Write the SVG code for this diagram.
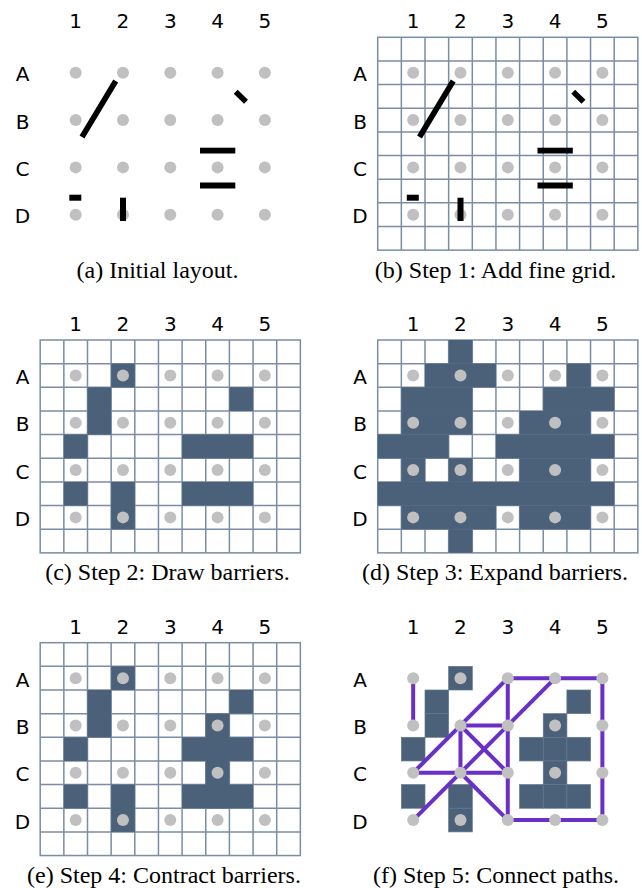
<svg xmlns="http://www.w3.org/2000/svg" xmlns:xlink="http://www.w3.org/1999/xlink" width="642" height="888" viewBox="0 0 642 888">
<style>
.lbl{font-family:"DejaVu Sans","Noto Sans",sans-serif;font-size:20px;fill:#000;text-anchor:middle}
.cap{font-family:"Liberation Serif","Times New Roman",serif;font-size:24px;fill:#000;text-anchor:middle}
.gl{fill:none;stroke:#7b8da5;stroke-width:1.5}
.bar{fill:#4b6079}
.barf{fill:#4b6079;stroke:#62778e;stroke-width:0.7}
.dot{fill:#c0c0c0}
.blk{fill:#000}
.bln{stroke:#000;stroke-width:5.6;fill:none}
.path{stroke:#6a2fc6;stroke-width:4;fill:none;stroke-linecap:round}
</style>
<defs>
<g id="grid">
<rect x="0" y="0" width="260.15" height="212.85" fill="#fff" class="gl"/>
<path class="gl" d="M23.65 0V212.85M47.3 0V212.85M70.95 0V212.85M94.6 0V212.85M118.25 0V212.85M141.9 0V212.85M165.55 0V212.85M189.2 0V212.85M212.85 0V212.85M236.5 0V212.85M0 23.65H260.15M0 47.3H260.15M0 70.95H260.15M0 94.6H260.15M0 118.25H260.15M0 141.9H260.15M0 165.55H260.15M0 189.2H260.15"/>
</g>
<g id="dots">
<circle class="dot" cx="35.475" cy="35.475" r="6"/><circle class="dot" cx="82.775" cy="35.475" r="6"/><circle class="dot" cx="130.075" cy="35.475" r="6"/><circle class="dot" cx="177.375" cy="35.475" r="6"/><circle class="dot" cx="224.675" cy="35.475" r="6"/>
<circle class="dot" cx="35.475" cy="82.775" r="6"/><circle class="dot" cx="82.775" cy="82.775" r="6"/><circle class="dot" cx="130.075" cy="82.775" r="6"/><circle class="dot" cx="177.375" cy="82.775" r="6"/><circle class="dot" cx="224.675" cy="82.775" r="6"/>
<circle class="dot" cx="35.475" cy="130.075" r="6"/><circle class="dot" cx="82.775" cy="130.075" r="6"/><circle class="dot" cx="130.075" cy="130.075" r="6"/><circle class="dot" cx="177.375" cy="130.075" r="6"/><circle class="dot" cx="224.675" cy="130.075" r="6"/>
<circle class="dot" cx="35.475" cy="177.375" r="6"/><circle class="dot" cx="82.775" cy="177.375" r="6"/><circle class="dot" cx="130.075" cy="177.375" r="6"/><circle class="dot" cx="177.375" cy="177.375" r="6"/><circle class="dot" cx="224.675" cy="177.375" r="6"/>
</g>
<g id="labels">
<text class="lbl" x="35.475" y="-9">1</text><text class="lbl" x="82.775" y="-9">2</text><text class="lbl" x="130.075" y="-9">3</text><text class="lbl" x="177.375" y="-9">4</text><text class="lbl" x="224.675" y="-9">5</text>
<text class="lbl" x="-17.7" y="44">A</text><text class="lbl" x="-17.7" y="91.3">B</text><text class="lbl" x="-17.7" y="138.6">C</text><text class="lbl" x="-17.7" y="185.9">D</text>
</g>
<g id="lines0">
<line class="bln" x1="75.5" y1="43.7" x2="41.8" y2="99.7"/>
<line class="bln" x1="195.5" y1="54.4" x2="205.8" y2="64.4"/>
<rect class="blk" x="159.8" y="110.4" width="35.3" height="5.8"/>
<rect class="blk" x="159.8" y="145.2" width="35.3" height="6"/>
<rect class="blk" x="29.1" y="157.4" width="12" height="6"/>
<rect class="blk" x="79.8" y="160.4" width="6" height="23.3"/>
</g>
<g id="bar2">
<rect class="bar" x="70.95" y="23.65" width="23.65" height="23.65"/>
<rect class="bar" x="47.3" y="47.3" width="23.65" height="47.3"/>
<rect class="bar" x="189.2" y="47.3" width="23.65" height="23.65"/>
<rect class="bar" x="23.65" y="94.6" width="23.65" height="23.65"/>
<rect class="bar" x="141.9" y="94.6" width="70.95" height="23.65"/>
<rect class="bar" x="23.65" y="141.9" width="23.65" height="23.65"/>
<rect class="bar" x="70.95" y="141.9" width="23.65" height="47.3"/>
<rect class="bar" x="141.9" y="141.9" width="70.95" height="23.65"/>
</g>
</defs>

<g id="panel-a" transform="translate(40.2,37.3)">
<use xlink:href="#labels"/>
<use xlink:href="#dots"/>
<use xlink:href="#lines0"/>
</g>
<text class="cap" x="157.5" y="277.8">(a) Initial layout.</text>

<g id="panel-b" transform="translate(377.7,37.3)">
<use xlink:href="#labels"/>
<use xlink:href="#grid"/>
<use xlink:href="#dots"/>
<use xlink:href="#lines0"/>
</g>
<text class="cap" x="495.5" y="277.8">(b) Step 1: Add fine grid.</text>

<g id="panel-c" transform="translate(40.2,340)">
<use xlink:href="#labels"/>
<use xlink:href="#grid"/>
<use xlink:href="#bar2"/>
<use xlink:href="#dots"/>
</g>
<text class="cap" x="167.5" y="579.5">(c) Step 2: Draw barriers.</text>

<g id="panel-d" transform="translate(377.7,340)">
<use xlink:href="#labels"/>
<use xlink:href="#grid"/>
<g>
<rect class="bar" x="70.95" y="0" width="23.65" height="23.65"/>
<rect class="bar" x="47.3" y="23.65" width="70.95" height="23.65"/>
<rect class="bar" x="189.2" y="23.65" width="23.65" height="23.65"/>
<rect class="bar" x="23.65" y="47.3" width="70.95" height="23.65"/>
<rect class="bar" x="165.55" y="47.3" width="70.95" height="23.65"/>
<rect class="bar" x="23.65" y="70.95" width="70.95" height="23.65"/>
<rect class="bar" x="141.9" y="70.95" width="70.95" height="23.65"/>
<rect class="bar" x="0" y="94.6" width="70.95" height="23.65"/>
<rect class="bar" x="118.25" y="94.6" width="118.25" height="23.65"/>
<rect class="bar" x="23.65" y="118.25" width="23.65" height="23.65"/>
<rect class="bar" x="70.95" y="118.25" width="23.65" height="23.65"/>
<rect class="bar" x="141.9" y="118.25" width="70.95" height="23.65"/>
<rect class="bar" x="0" y="141.9" width="236.5" height="23.65"/>
<rect class="bar" x="23.65" y="165.55" width="94.6" height="23.65"/>
<rect class="bar" x="141.9" y="165.55" width="70.95" height="23.65"/>
<rect class="bar" x="70.95" y="189.2" width="23.65" height="23.65"/>
</g>
<use xlink:href="#dots"/>
</g>
<text class="cap" x="495" y="579.5">(d) Step 3: Expand barriers.</text>

<g id="panel-e" transform="translate(40.2,642.7)">
<use xlink:href="#labels"/>
<use xlink:href="#grid"/>
<use xlink:href="#bar2"/>
<rect class="bar" x="165.55" y="70.95" width="23.65" height="94.6"/>
<use xlink:href="#dots"/>
</g>
<text class="cap" x="164" y="882.5">(e) Step 4: Contract barriers.</text>

<g id="panel-f" transform="translate(377.7,642.7)">
<use xlink:href="#labels"/>
<g id="f-barriers">
<rect class="barf" x="70.95" y="23.65" width="23.65" height="23.65"/>
<rect class="barf" x="47.3" y="47.3" width="23.65" height="23.65"/>
<rect class="barf" x="47.3" y="70.95" width="23.65" height="23.65"/>
<rect class="barf" x="189.2" y="47.3" width="23.65" height="23.65"/>
<rect class="barf" x="165.55" y="70.95" width="23.65" height="23.65"/>
<rect class="barf" x="23.65" y="94.6" width="23.65" height="23.65"/>
<rect class="barf" x="141.9" y="94.6" width="23.65" height="23.65"/>
<rect class="barf" x="165.55" y="94.6" width="23.65" height="23.65"/>
<rect class="barf" x="189.2" y="94.6" width="23.65" height="23.65"/>
<rect class="barf" x="165.55" y="118.25" width="23.65" height="23.65"/>
<rect class="barf" x="23.65" y="141.9" width="23.65" height="23.65"/>
<rect class="barf" x="70.95" y="141.9" width="23.65" height="23.65"/>
<rect class="barf" x="70.95" y="165.55" width="23.65" height="23.65"/>
<rect class="barf" x="141.9" y="141.9" width="23.65" height="23.65"/>
<rect class="barf" x="165.55" y="141.9" width="23.65" height="23.65"/>
<rect class="barf" x="189.2" y="141.9" width="23.65" height="23.65"/>
</g>
<g id="connectors">
<line class="path" x1="35.475" y1="35.475" x2="35.475" y2="82.775"/>
<line class="path" x1="130.075" y1="35.475" x2="224.675" y2="35.475"/>
<line class="path" x1="224.675" y1="35.475" x2="224.675" y2="177.375"/>
<line class="path" x1="130.075" y1="177.375" x2="224.675" y2="177.375"/>
<line class="path" x1="130.075" y1="35.475" x2="130.075" y2="177.375"/>
<line class="path" x1="130.075" y1="35.475" x2="35.475" y2="130.075"/>
<line class="path" x1="177.375" y1="35.475" x2="35.475" y2="177.375"/>
<line class="path" x1="82.775" y1="82.775" x2="130.075" y2="82.775"/>
<line class="path" x1="82.775" y1="82.775" x2="82.775" y2="130.075"/>
<line class="path" x1="82.775" y1="82.775" x2="130.075" y2="130.075"/>
<line class="path" x1="35.475" y1="130.075" x2="130.075" y2="130.075"/>
<line class="path" x1="82.775" y1="130.075" x2="130.075" y2="177.375"/>
</g>
<use xlink:href="#dots"/>
</g>
<text class="cap" x="496" y="882.5">(f) Step 5: Connect paths.</text>
</svg>
